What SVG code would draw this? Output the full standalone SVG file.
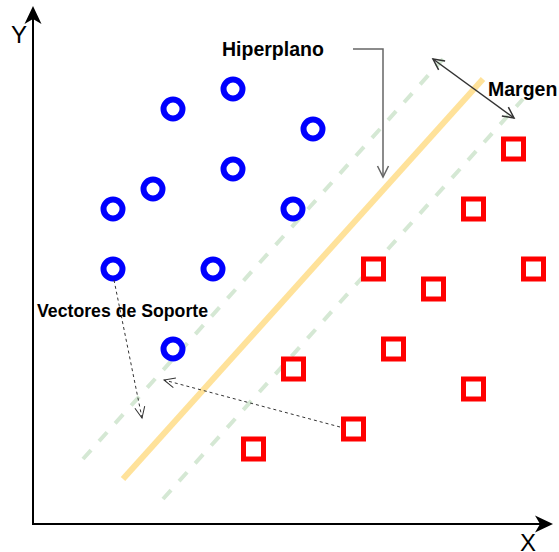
<svg xmlns="http://www.w3.org/2000/svg" width="559" height="552" viewBox="0 0 559 552">
<defs>
<style>
.sv{fill:none;stroke:#0000FF;stroke-width:6}
.neg{fill:#FFFFFF;stroke:#FF0000;stroke-width:5}
.margin{fill:none;stroke:#D5E8D4;stroke-width:4;stroke-dasharray:12 12}
.hyper{fill:none;stroke:#FFE29A;stroke-width:6}
.axis{fill:none;stroke:#000000;stroke-width:2}
.lbl{font-family:"Liberation Sans",Arial,sans-serif;font-weight:bold;fill:#000000}
.ax{font-family:"Liberation Sans",Arial,sans-serif;font-size:24px;fill:#000000}
.dash{fill:none;stroke:#333333;stroke-width:1;stroke-dasharray:3 3}
</style>
<marker id="classic" viewBox="-19 -10 21 20" refX="-13" refY="0" markerUnits="userSpaceOnUse" markerWidth="21" markerHeight="20" orient="auto">
<path d="M0,0 L-18,-8.5 L-13,0 L-18,8.5 Z" fill="#000000"/>
</marker>
<marker id="openGray" viewBox="-12 -7 14 14" refX="0" refY="0" markerUnits="userSpaceOnUse" markerWidth="14" markerHeight="14" orient="auto">
<path d="M-11,-5.5 L0,0 L-11,5.5" fill="none" stroke="#666666" stroke-width="1.5"/>
</marker>
<marker id="openDark" viewBox="-12 -7 14 14" refX="0" refY="0" markerUnits="userSpaceOnUse" markerWidth="14" markerHeight="14" orient="auto-start-reverse">
<path d="M-11,-5.5 L0,0 L-11,5.5" fill="none" stroke="#333333" stroke-width="1.5"/>
</marker>
<marker id="openDash" viewBox="-12 -7 14 14" refX="0" refY="0" markerUnits="userSpaceOnUse" markerWidth="14" markerHeight="14" orient="auto">
<path d="M-11,-5 L0,0 L-11,5" fill="none" stroke="#333333" stroke-width="1"/>
</marker>
</defs>
<rect x="0" y="0" width="559" height="552" fill="#FFFFFF"/>

<g id="axes">
<path class="axis" d="M33,524 L33,19" marker-end="url(#classic)"/>
<path class="axis" d="M32,524 L540,524" marker-end="url(#classic)"/>
<text class="ax" x="11" y="43">Y</text>
<text class="ax" x="520" y="551">X</text>
</g>

<g id="margin-lines">
<line class="margin" x1="83" y1="459" x2="443" y2="59"/>
<line class="margin" x1="163" y1="499" x2="523" y2="99"/>
</g>
<g id="hyperplane">
<line class="hyper" x1="123" y1="479" x2="483" y2="79"/>
</g>

<g id="positive-class">
<circle id="c1" class="sv" cx="173" cy="109" r="9.5"/>
<circle id="c2" class="sv" cx="233" cy="89" r="9.5"/>
<circle id="c3" class="sv" cx="313" cy="129" r="9.5"/>
<circle id="c4" class="sv" cx="233" cy="169" r="9.5"/>
<circle id="c5" class="sv" cx="153" cy="189" r="9.5"/>
<circle id="c6" class="sv" cx="113" cy="209" r="9.5"/>
<circle id="c7" class="sv" cx="293" cy="209" r="9.5"/>
<circle id="c8" class="sv" cx="113" cy="269" r="9.5"/>
<circle id="c9" class="sv" cx="213" cy="269" r="9.5"/>
<circle id="c10" class="sv" cx="173" cy="349" r="9.5"/>
</g>

<g id="negative-class">
<rect id="s1" class="neg" x="503.5" y="139" width="20" height="20"/>
<rect id="s2" class="neg" x="463.5" y="199" width="20" height="20"/>
<rect id="s3" class="neg" x="363.5" y="259" width="20" height="20"/>
<rect id="s4" class="neg" x="523.5" y="259" width="20" height="20"/>
<rect id="s5" class="neg" x="423.5" y="279" width="20" height="20"/>
<rect id="s6" class="neg" x="383.5" y="339" width="20" height="20"/>
<rect id="s7" class="neg" x="283.5" y="359" width="20" height="20"/>
<rect id="s8" class="neg" x="463.5" y="379" width="20" height="20"/>
<rect id="s9" class="neg" x="343.5" y="419" width="20" height="20"/>
<rect id="s10" class="neg" x="243.5" y="439" width="20" height="20"/>
</g>

<g id="label-hiperplano"><text class="lbl" x="222" y="56" font-size="19.5">Hiperplano</text></g>
<g id="label-margen"><text class="lbl" x="488" y="96" font-size="19.5">Margen</text></g>
<g id="label-vectores"><text class="lbl" x="37" y="317" font-size="17.7">Vectores de Soporte</text></g>

<g id="connectors">
<path d="M353,49 L383,49 L383,177" fill="none" stroke="#666666" stroke-width="1.5" marker-end="url(#openGray)"/>
<path d="M433,59 L514,118" fill="none" stroke="#333333" stroke-width="1.5" marker-start="url(#openDark)" marker-end="url(#openDark)"/>
<path class="dash" d="M114,280 L142,418" marker-end="url(#openDash)"/>
<path class="dash" d="M340,427 L164,380" marker-end="url(#openDash)"/>
</g>
</svg>
